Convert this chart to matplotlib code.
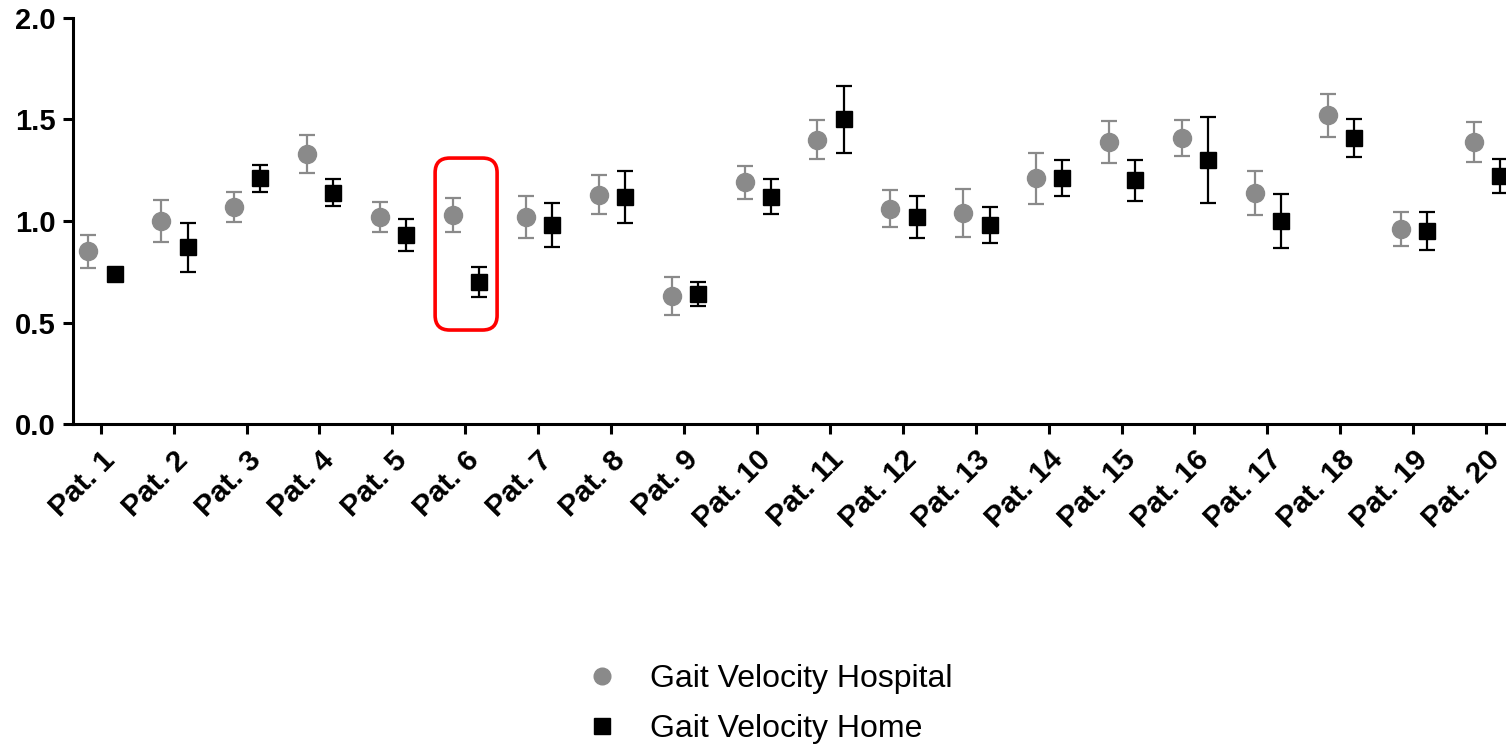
"""Gait velocity per patient, hospital vs home (mean +/- SD)."""

import matplotlib

matplotlib.use("Agg")

import matplotlib.pyplot as plt
import numpy as np
from matplotlib.lines import Line2D
from matplotlib.patches import FancyBboxPatch

patients = [f"Pat. {i}" for i in range(1, 21)]

hospital_mean = [0.85, 1.00, 1.07, 1.33, 1.02, 1.03, 1.02, 1.13, 0.63, 1.19,
                 1.40, 1.06, 1.04, 1.21, 1.39, 1.41, 1.14, 1.52, 0.96, 1.39]
hospital_sd = [0.08, 0.105, 0.075, 0.093, 0.072, 0.085, 0.103, 0.097, 0.094, 0.082,
               0.097, 0.092, 0.118, 0.126, 0.103, 0.088, 0.108, 0.104, 0.085, 0.099]

home_mean = [0.74, 0.87, 1.21, 1.14, 0.93, 0.70, 0.98, 1.12, 0.64, 1.12,
             1.50, 1.02, 0.98, 1.21, 1.20, 1.30, 1.00, 1.41, 0.95, 1.22]
home_sd = [0.02, 0.12, 0.067, 0.067, 0.08, 0.074, 0.11, 0.128, 0.06, 0.085,
           0.164, 0.103, 0.089, 0.089, 0.10, 0.212, 0.131, 0.093, 0.094, 0.084]

highlight = "Pat. 6"

GREY = "#8a8a8a"

plt.rcParams["font.family"] = ["Liberation Sans", "DejaVu Sans"]

fig = plt.figure(figsize=(15.06, 7.46), dpi=100)
# axis runs past the right edge of the figure, as in the reference
ax = fig.add_axes([0.0485, 0.4316, 0.957, 0.5443])

x = np.arange(len(patients))
ax.errorbar(x - 0.17, hospital_mean, yerr=hospital_sd, fmt="o", color=GREY,
            ms=13, elinewidth=1.6, capsize=6, capthick=1.6, zorder=3)
ax.errorbar(x + 0.19, home_mean, yerr=home_sd, fmt="s", color="black",
            ms=12, elinewidth=1.6, capsize=6, capthick=1.6, zorder=3)

ax.set_xlim(-0.38, 19.387)
ax.set_ylim(0, 2.0)
ax.set_yticks([0.0, 0.5, 1.0, 1.5, 2.0])
ax.set_yticklabels(["0.0", "0.5", "1.0", "1.5", "2.0"])
ax.set_xticks(x)
ax.set_xticklabels(patients, rotation=45, ha="right", rotation_mode="anchor")

for side in ("top", "right"):
    ax.spines[side].set_visible(False)
for side in ("left", "bottom"):
    ax.spines[side].set_linewidth(2.2)
ax.tick_params(width=2.2, length=7.5)
ax.tick_params(axis="y", labelsize=21, pad=5)
ax.tick_params(axis="x", labelsize=21.5, pad=8)
for lab in ax.get_xticklabels() + ax.get_yticklabels():
    lab.set_fontweight("bold")

# red rounded box around the highlighted patient
i = patients.index(highlight)
box = FancyBboxPatch((i - 0.414, 0.463), 0.85, 0.847,
                     boxstyle="round,pad=0,rounding_size=0.2",
                     mutation_aspect=0.36, fill=False, edgecolor="#ff0000",
                     linewidth=2.6, zorder=4)
ax.add_patch(box)

handles = [
    Line2D([], [], ls="none", marker="o", color=GREY, ms=12),
    Line2D([], [], ls="none", marker="s", color="black", ms=11),
]
fig.legend(handles, ["Gait Velocity Hospital", "Gait Velocity Home"],
           loc="center", bbox_to_anchor=(0.511, 0.0565), frameon=False,
           fontsize=23, labelspacing=0.62, handlelength=1.0,
           handletextpad=1.0)

fig.savefig("out.png", dpi=100)
